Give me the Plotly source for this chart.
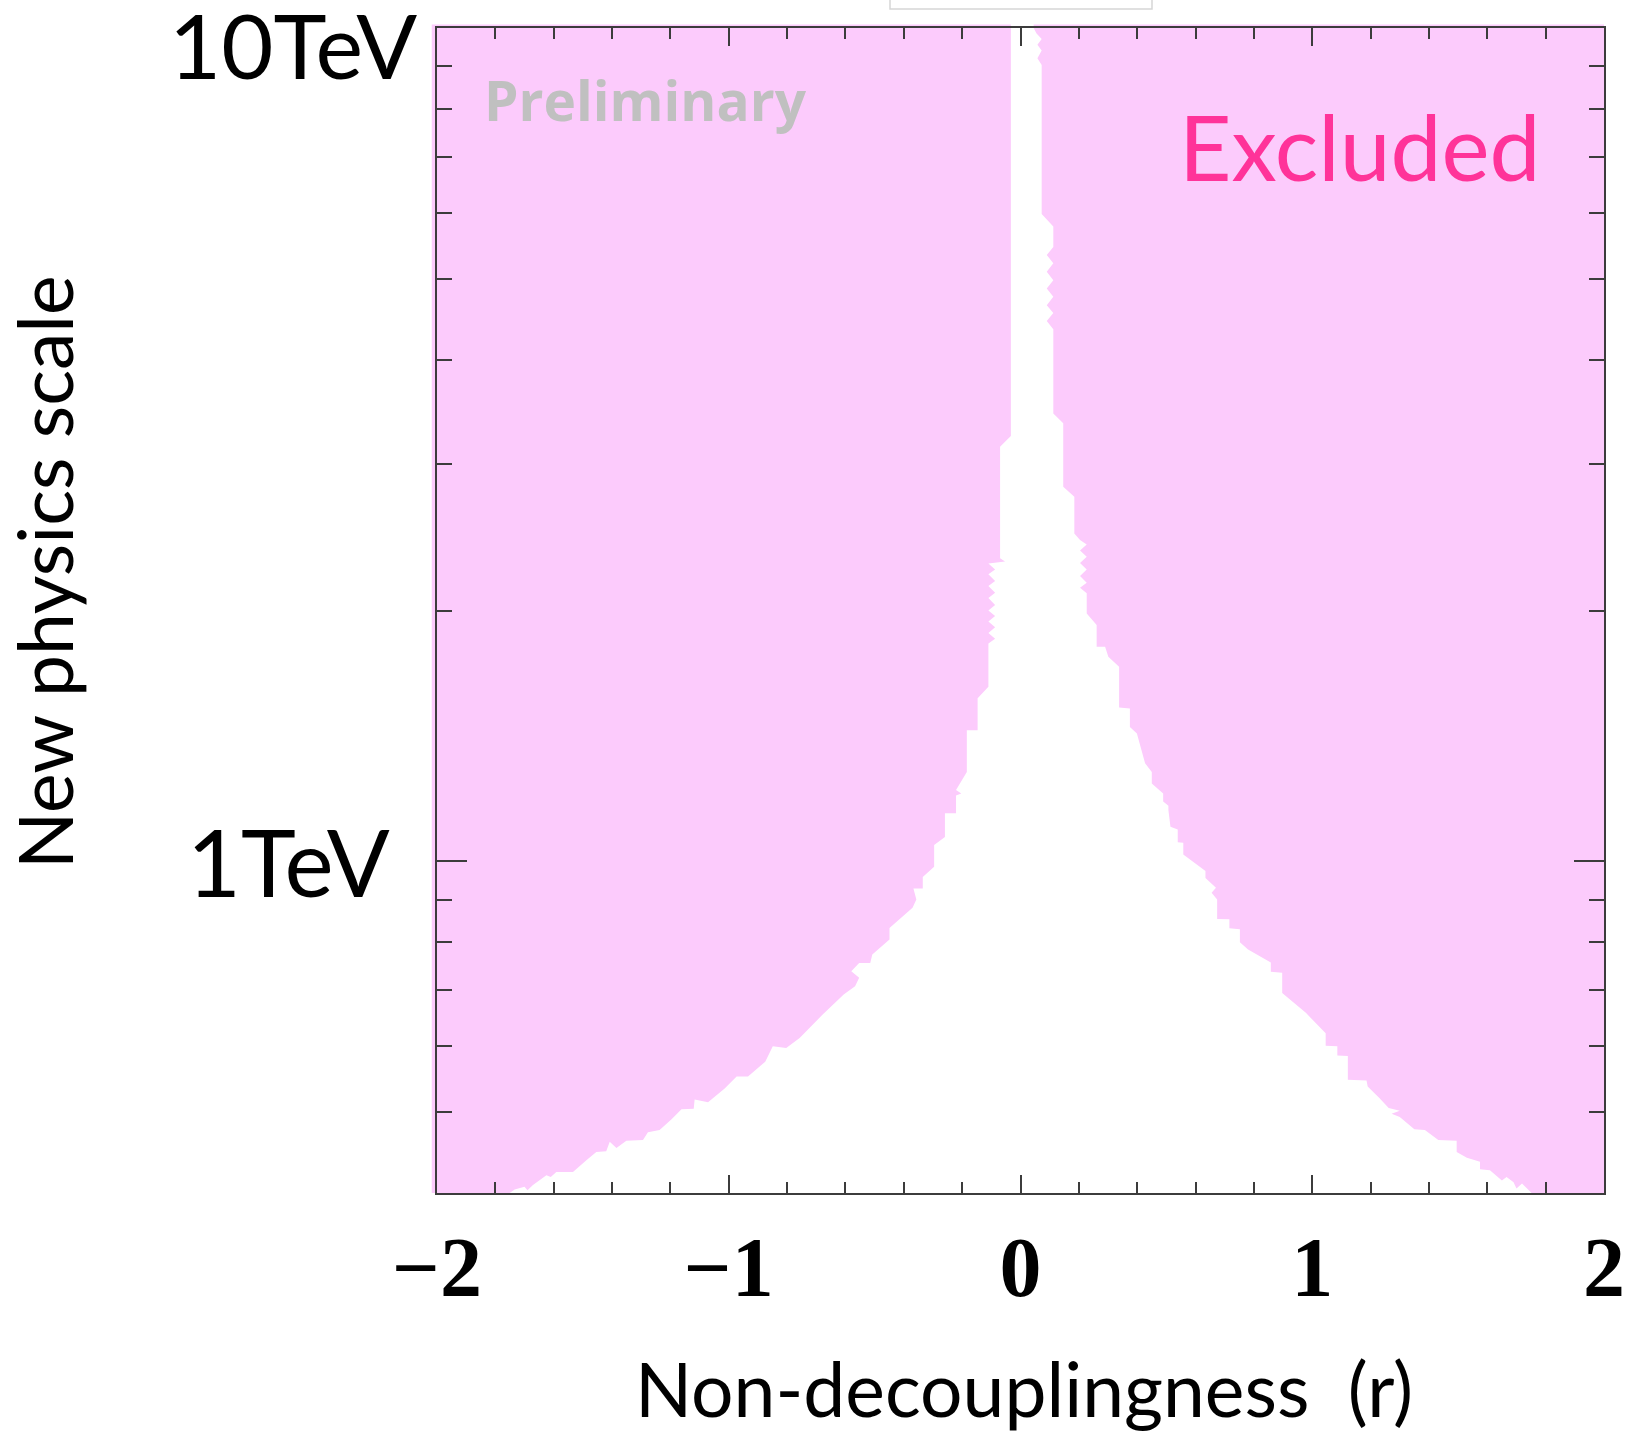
import plotly.graph_objects as go

# ---------------- data ----------------
R_RANGE = [-2.0, 2.0]          # non-decouplingness r
M_RANGE = [0.4, 10.0]          # new physics scale, TeV

# left edge of the allowed (white) region, bottom -> top
left_mass = [0.400, 0.404, 0.407, 0.403, 0.409, 0.420, 0.418, 0.424, 0.424, 0.438,
             0.448, 0.449, 0.461, 0.453, 0.462, 0.463, 0.473, 0.476, 0.490, 0.504,
             0.505, 0.518, 0.514, 0.534, 0.552, 0.552, 0.568, 0.575, 0.600, 0.597,
             0.614, 0.655, 0.692, 0.708, 0.725, 0.738, 0.755, 0.755, 0.773, 0.787,
             0.806, 0.832, 0.856, 0.880, 0.900, 0.928, 0.928, 0.958, 0.985, 1.046,
             1.070, 1.142, 1.142, 1.200, 1.206, 1.218, 1.280, 1.437, 1.437, 1.569,
             1.620, 1.826, 1.85, 1.88, 1.91, 1.94, 1.97, 2.00, 2.03, 2.07,
             2.10, 2.14, 2.17, 2.21, 2.24, 2.278, 2.29, 2.31, 2.342, 3.145,
             3.203, 3.24, 10.0]
left_r = [-1.751, -1.734, -1.700, -1.690, -1.671, -1.625, -1.610, -1.591, -1.534, -1.488,
          -1.454, -1.420, -1.408, -1.385, -1.351, -1.294, -1.277, -1.237, -1.197, -1.162,
          -1.120, -1.117, -1.071, -1.014, -0.973, -0.934, -0.894, -0.875, -0.849, -0.803,
          -0.757, -0.678, -0.606, -0.567, -0.553, -0.580, -0.553, -0.515, -0.508, -0.482,
          -0.449, -0.449, -0.409, -0.370, -0.357, -0.367, -0.335, -0.335, -0.296, -0.296,
          -0.259, -0.259, -0.221, -0.221, -0.203, -0.221, -0.184, -0.184, -0.147, -0.147,
          -0.110, -0.110, -0.087, -0.110, -0.087, -0.110, -0.087, -0.110, -0.087, -0.110,
          -0.087, -0.110, -0.087, -0.110, -0.087, -0.110, -0.053, -0.070, -0.070, -0.070,
          -0.047, -0.033, -0.033]

# right edge of the allowed (white) region, bottom -> top
right_mass = [0.400, 0.4106, 0.405, 0.412, 0.418, 0.414, 0.426, 0.427, 0.436, 0.441,
              0.448, 0.462, 0.463, 0.476, 0.477, 0.4935, 0.498, 0.502, 0.506, 0.520,
              0.537, 0.546, 0.547, 0.584, 0.585, 0.600, 0.601, 0.622, 0.658, 0.695,
              0.735, 0.737, 0.756, 0.784, 0.800, 0.829, 0.831, 0.852, 0.853, 0.900,
              0.917, 0.930, 0.955, 0.974, 1.019, 1.053, 1.054, 1.092, 1.100, 1.152,
              1.166, 1.180, 1.206, 1.240, 1.280, 1.311, 1.373, 1.424, 1.450, 1.526,
              1.530, 1.712, 1.760, 1.809, 1.810, 1.921, 1.984, 2.097, 2.13, 2.16,
              2.20, 2.24, 2.28, 2.32, 2.36, 2.40, 2.43, 2.475, 2.738, 2.816,
              3.355, 3.447, 4.35, 4.45, 4.55, 4.65, 4.76, 4.87, 4.98, 5.10,
              5.22, 5.34, 5.46, 5.61, 5.78, 5.98, 9.03, 9.2, 9.4, 9.55,
              9.7, 9.85, 10.0]
right_r = [1.752, 1.719, 1.700, 1.690, 1.666, 1.650, 1.609, 1.575, 1.575, 1.530,
           1.495, 1.495, 1.432, 1.386, 1.350, 1.300, 1.272, 1.300, 1.262, 1.230,
           1.190, 1.186, 1.122, 1.122, 1.086, 1.086, 1.046, 1.046, 0.978, 0.897,
           0.897, 0.858, 0.858, 0.780, 0.752, 0.752, 0.716, 0.716, 0.674, 0.674,
           0.655, 0.670, 0.634, 0.634, 0.558, 0.558, 0.539, 0.539, 0.514, 0.507,
           0.507, 0.489, 0.489, 0.450, 0.450, 0.427, 0.410, 0.399, 0.375, 0.375,
           0.338, 0.338, 0.301, 0.290, 0.261, 0.261, 0.227, 0.227, 0.204, 0.227,
           0.204, 0.227, 0.204, 0.227, 0.204, 0.227, 0.204, 0.1845, 0.1845, 0.1465,
           0.1465, 0.1125, 0.1125, 0.090, 0.1125, 0.090, 0.1125, 0.090, 0.1125, 0.090,
           0.1125, 0.090, 0.1125, 0.1125, 0.1125, 0.0726, 0.0726, 0.058, 0.0726, 0.058,
           0.0726, 0.055, 0.045]

x_tickvals = [-2, -1, 0, 1, 2]
x_ticktext = ["\u22122", "\u22121", "0", "1", "2"]
y_major = [1, 10]
y_minor = [0.4, 0.5, 0.6, 0.7, 0.8, 0.9, 2, 3, 4, 5, 6, 7, 8, 9]

# ---------------- figure ----------------
PINK = "rgb(252,203,252)"
AX = "#3c3c3c"

fig = go.Figure()

fig.add_trace(go.Scatter(
    x=[R_RANGE[0]] + left_r + [R_RANGE[0]],
    y=[M_RANGE[0]] + left_mass + [M_RANGE[1]],
    fill="toself", fillcolor=PINK, mode="lines", line=dict(width=0),
    hoverinfo="skip", showlegend=False))
fig.add_trace(go.Scatter(
    x=[R_RANGE[1]] + right_r + [R_RANGE[1]],
    y=[M_RANGE[0]] + right_mass + [M_RANGE[1]],
    fill="toself", fillcolor=PINK, mode="lines", line=dict(width=0),
    hoverinfo="skip", showlegend=False))

W, H = 1627, 1435
ML, MR, MT, MB = 437, 23, 28, 242
PW, PH = W - ML - MR, H - MT - MB

def px(xpix):
    return (xpix - ML) / PW

def py(ypix):
    return (H - MB - ypix) / PH

fig.update_layout(
    width=W, height=H,
    margin=dict(l=ML, r=MR, t=MT, b=MB, pad=0, autoexpand=False),
    paper_bgcolor="white", plot_bgcolor="white",
    showlegend=False,
    xaxis=dict(
        range=R_RANGE, showgrid=False, zeroline=False, automargin=False,
        showline=True, linecolor=AX, linewidth=2, mirror="ticks",
        ticks="inside", ticklen=18, tickwidth=2, tickcolor=AX,
        tickmode="array", tickvals=x_tickvals, ticktext=x_ticktext,
        tickfont=dict(family="Liberation Serif", size=84, color="black", weight="bold"),
        ticklabelstandoff=0, ticklabeloverflow="allow",
        minor=dict(dtick=0.2, tick0=0, ticks="inside", ticklen=11, tickwidth=2,
                   tickcolor=AX, showgrid=False),
    ),
    yaxis=dict(
        type="log", range=[-0.39794, 1.0], showgrid=False, zeroline=False, automargin=False,
        showline=True, linecolor=AX, linewidth=2, mirror="ticks",
        ticks="inside", ticklen=30, tickwidth=2, tickcolor=AX,
        tickmode="array", tickvals=y_major, showticklabels=False,
        minor=dict(tickmode="array", tickvals=y_minor, ticks="inside", ticklen=15,
                   tickwidth=2, tickcolor=AX, showgrid=False),
    ),
)

# pink bleed slightly outside the frame (left and top)
fig.add_shape(type="rect", xref="paper", yref="paper", x0=-0.0045, x1=0, y0=0, y1=1.003,
              fillcolor=PINK, line=dict(width=0), layer="below")
fig.add_shape(type="rect", xref="x", yref="paper", x0=R_RANGE[0], x1=left_r[-1], y0=1, y1=1.003,
              fillcolor=PINK, line=dict(width=0), layer="below")
fig.add_shape(type="rect", xref="x", yref="paper", x0=right_r[-1], x1=R_RANGE[1], y0=1, y1=1.003,
              fillcolor=PINK, line=dict(width=0), layer="below")
# faint box fragment at the very top
fig.add_shape(type="rect", xref="paper", yref="paper", x0=px(890), x1=px(1152),
              y0=py(9), y1=py(-20), line=dict(color="#d6d6d6", width=1.5), fillcolor="rgba(0,0,0,0)")

SANS = "Lato"
fig.add_annotation(text="10TeV", xref="paper", yref="paper", x=px(419), y=py(44),
                   xanchor="right", yanchor="middle", showarrow=False,
                   font=dict(family=SANS, size=90, color="black"))
fig.add_annotation(text="1TeV", xref="paper", yref="y", x=px(392), y=0,
                   xanchor="right", yanchor="middle", showarrow=False,
                   font=dict(family=SANS, size=93, color="black"))
fig.add_annotation(text="New physics scale", xref="paper", yref="paper", x=px(44), y=py(572),
                   xanchor="center", yanchor="middle", textangle=-90, showarrow=False,
                   font=dict(family=SANS, size=75, color="black"))
fig.add_annotation(text="Non-decouplingness \u00a0(r)", xref="paper", yref="paper",
                   x=px(1024), y=py(1388), xanchor="center", yanchor="middle", showarrow=False,
                   font=dict(family=SANS, size=75, color="black"))
fig.add_annotation(text="<b>Preliminary</b>", xref="paper", yref="paper", x=px(482), y=py(99),
                   xanchor="left", yanchor="middle", showarrow=False,
                   font=dict(family="Open Sans", size=55, color="#c0c0c0"))
fig.add_annotation(text="Excluded", xref="paper", yref="paper", x=px(1177), y=py(145),
                   xanchor="left", yanchor="middle", showarrow=False,
                   font=dict(family=SANS, size=91, color="#ff3399"))

fig.write_html("out.html")
